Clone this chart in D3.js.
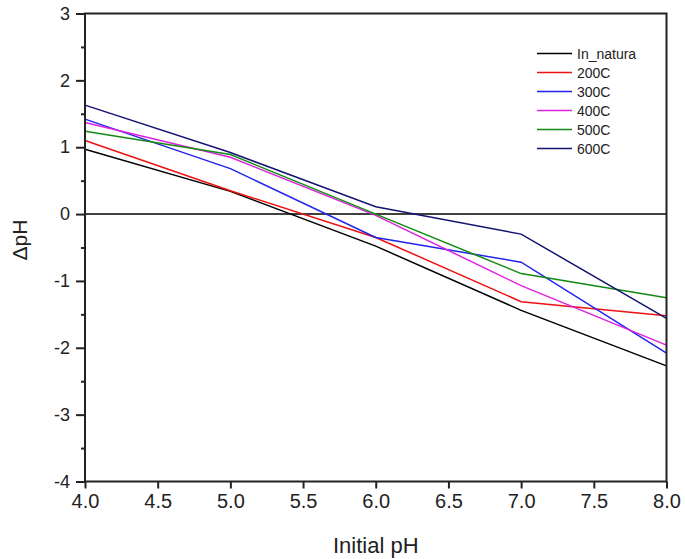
<!DOCTYPE html>
<html><head><meta charset="utf-8">
<script src="https://cdn.jsdelivr.net/npm/d3@7"></script>
<style>body{margin:0;background:#fff;} text{font-family:"Liberation Sans",Arial,sans-serif;}</style>
</head><body>
<svg id="c" width="685" height="559"></svg>
<script>
const initialPH = [4, 5, 6, 7, 8];
const seriesNames = ["In_natura", "200C", "300C", "400C", "500C", "600C"];
const seriesColors = ["#000000", "#ee1111", "#2222ee", "#dd22dd", "#138a13", "#141470"];
const inNatura = [0.97, 0.34, -0.48, -1.44, -2.27];
const s200C = [1.10, 0.35, -0.35, -1.31, -1.52];
const s300C = [1.42, 0.68, -0.35, -0.72, -2.08];
const s400C = [1.37, 0.85, -0.02, -1.07, -1.96];
const s500C = [1.24, 0.89, 0.00, -0.89, -1.25];
const s600C = [1.63, 0.92, 0.11, -0.30, -1.56];
const seriesValues = [inNatura, s200C, s300C, s400C, s500C, s600C];
const xTicks = [4.0, 4.5, 5.0, 5.5, 6.0, 6.5, 7.0, 7.5, 8.0];
const yTicks = [-4, -3, -2, -1, 0, 1, 2, 3];
const yMinorTicks = [-3.5, -2.5, -1.5, -0.5, 0.5, 1.5, 2.5];

const svg = d3.select("#c");
const L = 85, R = 666.5, T = 13.5, B = 481.5;
const x = d3.scaleLinear().domain([4, 8]).range([L, R]);
const y = d3.scaleLinear().domain([-4, 3]).range([B, T]);

// zero line
svg.append("line").attr("x1", L).attr("x2", R).attr("y1", y(0)).attr("y2", y(0))
  .attr("stroke", "#000").attr("stroke-width", 1.6);

const line = d3.line().x((d, i) => x(initialPH[i])).y(d => y(d));
seriesValues.forEach((vals, k) => {
  svg.append("path").datum(vals).attr("d", line).attr("fill", "none")
    .attr("stroke", seriesColors[k]).attr("stroke-width", 1.5);
});

// frame
svg.append("rect").attr("x", L).attr("y", T).attr("width", R - L).attr("height", B - T)
  .attr("fill", "none").attr("stroke", "#222").attr("stroke-width", 2);

// axes
const xAxis = d3.axisBottom(x).tickValues(xTicks).tickFormat(d3.format(".1f")).tickSize(7).tickPadding(5);
const gx = svg.append("g").attr("transform", `translate(0,${B})`).call(xAxis);
gx.select(".domain").remove();
gx.selectAll("line").attr("stroke", "#222").attr("stroke-width", 2);
gx.selectAll("text").attr("font-size", 20).attr("fill", "#222").attr("font-family", "Liberation Sans, Arial, sans-serif");

const yAxis = d3.axisLeft(y).tickValues(yTicks).tickFormat(d => String(d)).tickSize(9).tickPadding(6);
const gy = svg.append("g").attr("transform", `translate(${L},0)`).call(yAxis);
gy.select(".domain").remove();
gy.selectAll("line").attr("stroke", "#222").attr("stroke-width", 2);
gy.selectAll("text").attr("font-size", 18).attr("fill", "#222").attr("font-family", "Liberation Sans, Arial, sans-serif");

const yMinor = d3.axisLeft(y).tickValues(yMinorTicks).tickSize(4).tickFormat("");
const gym = svg.append("g").attr("transform", `translate(${L},0)`).call(yMinor);
gym.select(".domain").remove();
gym.selectAll("line").attr("stroke", "#222").attr("stroke-width", 2);

// titles
svg.append("text").attr("x", (L + R) / 2).attr("y", 553).attr("text-anchor", "middle")
  .attr("font-size", 22).attr("fill", "#222").text("Initial pH");
svg.append("text").attr("transform", `translate(27,240) rotate(-90)`).attr("text-anchor", "middle")
  .attr("font-size", 21).attr("fill", "#222").text("ΔpH");

// legend
const lg = svg.append("g");
seriesNames.forEach((n, k) => {
  const yy = 53.5 + k * 19;
  lg.append("line").attr("x1", 537).attr("x2", 572).attr("y1", yy).attr("y2", yy)
    .attr("stroke", seriesColors[k]).attr("stroke-width", 1.5);
  lg.append("text").attr("x", 577).attr("y", yy + 5).attr("font-size", 14).attr("fill", "#222").text(n);
});
</script>
</body></html>
